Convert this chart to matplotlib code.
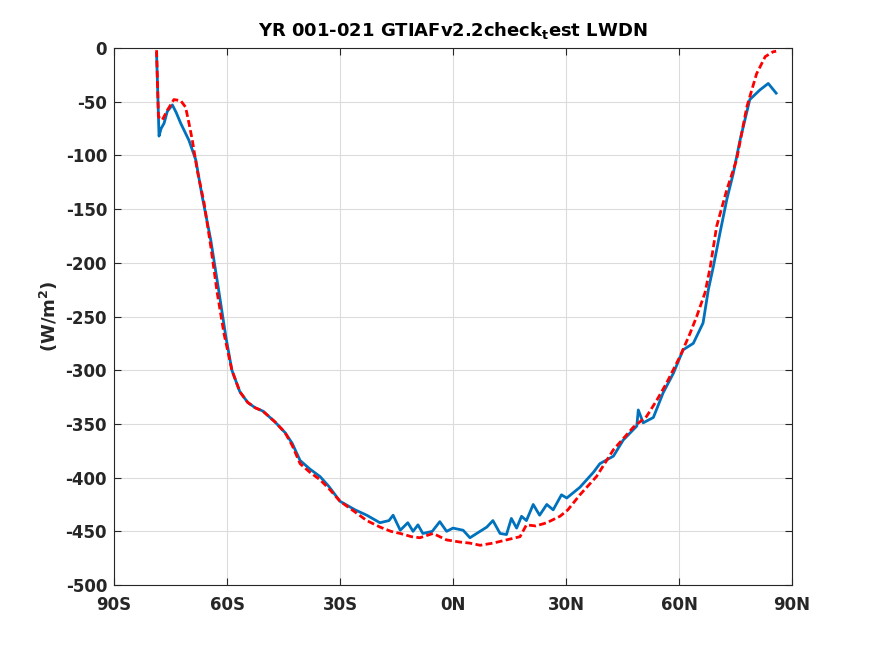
import matplotlib
matplotlib.use('Agg')
import matplotlib.pyplot as plt

plt.rcParams['axes.unicode_minus'] = False

# zonal mean LWDN, two runs
lat_a = [-78.7, -78.4, -78.05, -77.5, -76.7, -75.85, -74.5, -73.5, -72.3, -70.1,
         -68.3, -66.6, -64.3, -62.1, -60.3, -58.7, -56.6, -54.5, -52.5, -50.5,
         -47.3, -44.6, -42.7, -40.6, -38.0, -35.3, -33.0, -30.0, -26.0, -22.9,
         -19.4, -17.0, -15.9, -14.0, -12.0, -10.6, -9.3, -8.0, -5.5, -3.5,
         -1.7, 0.0, 2.7, 4.5, 7.2, 9.0, 10.6, 12.5, 14.2, 15.5,
         16.9, 18.2, 19.5, 21.3, 23.0, 24.9, 26.6, 28.8, 30.2, 33.7,
         37.3, 39.0, 42.6, 45.2, 48.8, 49.2, 50.5, 53.2, 55.8, 58.5,
         61.1, 63.8, 66.4, 67.8, 69.1, 70.9, 72.7, 74.4, 76.2, 78.8,
         81.5, 83.7, 85.8]
lwdn_a = [-5, -40, -82, -75, -70, -59, -53, -60, -70, -86,
          -104, -138, -179, -228, -269, -300, -320, -330, -335, -338,
          -348, -358, -368, -384, -392, -399, -408, -422, -430, -435,
          -442, -440, -435, -449, -442, -450, -444, -452, -450, -441,
          -450, -447, -449, -456, -450, -446, -440, -452, -453, -438,
          -447, -436, -440, -425, -435, -425, -430, -416, -419, -409,
          -395, -387, -380, -365, -352, -337, -349, -344, -321, -303,
          -281, -275, -256, -225, -204, -172, -141, -117, -86, -48,
          -39, -33, -42]

lat_b = [-78.7, -78.4, -78.2, -77.2, -75.85, -74.1, -72.3, -71.0, -70.1, -69.2,
         -67.9, -66.1, -64.3, -62.6, -60.8, -58.7, -56.6, -54.5, -52.5, -50.5,
         -47.3, -44.6, -42.7, -40.6, -38.0, -35.3, -33.0, -30.0, -26.0, -22.9,
         -19.4, -16.5, -14.0, -11.0, -8.8, -5.3, -1.7, 1.9, 4.5, 7.2,
         10.6, 14.2, 17.8, 19.5, 22.0, 24.9, 28.4, 30.5, 33.7, 38.1,
         42.6, 47.9, 51.4, 54.1, 56.7, 60.3, 62.9, 64.7, 66.9, 68.3,
         70.0, 72.7, 75.3, 78.0, 80.6, 82.9, 85.0, 85.8]
lwdn_b = [-2, -40, -64, -67, -58, -48, -49, -55, -70, -86,
          -114, -144, -185, -228, -266, -300, -320, -330, -335, -338,
          -348, -358, -370, -387, -395, -402, -410, -422, -432, -440,
          -446, -450, -452, -455, -456, -452, -458, -460, -461, -463,
          -461, -458, -455, -444, -445, -442, -436, -430, -416, -399,
          -374, -353, -343, -328, -312, -287, -266, -250, -228, -204,
          -166, -132, -104, -55, -24, -8, -3.5, -3]

xticks = [-90, -60, -30, 0, 30, 60, 90]
xlabels = ['90S', '60S', '30S', '0N', '30N', '60N', '90N']
yticks = [-500, -450, -400, -350, -300, -250, -200, -150, -100, -50, 0]

fig = plt.figure(figsize=(8.75, 6.56), dpi=100)
ax = fig.add_axes([0.1303, 0.1082, 0.7748, 0.8186])

ax.plot(lat_a, lwdn_a, color='#0072BD', linewidth=2)
ax.plot(lat_b, lwdn_b, color='#FF0000', linewidth=2, linestyle='--', dashes=(2.5, 1.2))

ax.set_xlim(-90, 90)
ax.set_ylim(-500, 0)
ax.set_xticks(xticks)
ax.set_xticklabels(xlabels)
ax.set_yticks(yticks)
ax.grid(True, color='#dcdcdc', linewidth=0.8)
ax.set_axisbelow(True)

ax.tick_params(direction='in', top=True, right=True, length=5, width=0.8,
               colors='#262626', labelsize=12)
ax.tick_params(axis='x', pad=8)
ax.tick_params(axis='y', pad=5)
for lbl in ax.get_xticklabels() + ax.get_yticklabels():
    lbl.set_fontweight('bold')
for s in ax.spines.values():
    s.set_color('#262626')
    s.set_linewidth(0.8)

ax.set_title(r'YR 001-021 GTIAFv2.2check$_\mathbf{t}$est LWDN',
             fontsize=13, fontweight='bold', pad=9)
ax.set_ylabel(r'(W/m$^\mathbf{2}$)', fontsize=13, fontweight='bold', color='#262626')

fig.savefig('out.png', dpi=100)
